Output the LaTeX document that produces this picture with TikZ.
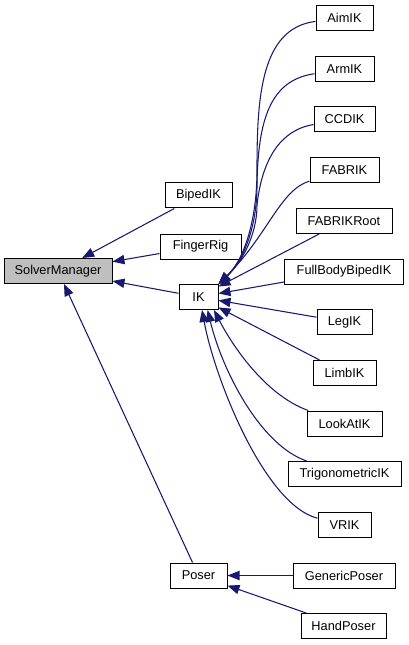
\documentclass[tikz,border=0pt]{standalone}
\usepackage{fontspec}
\setmainfont{Liberation Sans}
\usetikzlibrary{arrows.meta}
\definecolor{doxblue}{RGB}{25,25,112}
\definecolor{doxgray}{RGB}{191,191,191}

\begin{document}
\begin{tikzpicture}[x=0.75pt, y=-0.75pt, >={Triangle[width=7pt,length=9pt]}, cls/.style={draw, fill=white, line width=0.75pt, minimum height=18.75pt, inner sep=0pt, font=\fontsize{9.6}{11}\selectfont}, root/.style={cls, fill=doxgray}, link/.style={color=doxblue, line width=0.8pt}]
\useasboundingbox (0,0) rectangle (409,645);
\draw (58.0, 271.0)node[root, minimum width=81pt](SolverManager){SolverManager};
\draw (198.5, 195.5)node[cls, minimum width=50.25pt](BipedIK){BipedIK};
\draw (200.5, 246.5)node[cls, minimum width=60.75pt](FingerRig){FingerRig};
\draw (198.5, 297.0)node[cls, minimum width=29.25pt](IK){IK};
\draw (198.5, 575.5)node[cls, minimum width=42.75pt](Poser){Poser};
\draw (344.5, 18.0)node[cls, minimum width=42.75pt](AimIK){AimIK};
\draw (344.5, 69.5)node[cls, minimum width=44.25pt](ArmIK){ArmIK};
\draw (344.5, 119.5)node[cls, minimum width=45.75pt](CCDIK){CCDIK};
\draw (344.5, 170.5)node[cls, minimum width=51.75pt](FABRIK){FABRIK};
\draw (344.0, 221.0)node[cls, minimum width=72pt](FABRIKRoot){FABRIKRoot};
\draw (344.0, 271.5)node[cls, minimum width=89.25pt](FullBodyBipedIK){FullBodyBipedIK};
\draw (344.5, 322.0)node[cls, minimum width=41.25pt](LegIK){LegIK};
\draw (344.5, 373.0)node[cls, minimum width=47.25pt](LimbIK){LimbIK};
\draw (344.5, 423.5)node[cls, minimum width=56.25pt](LookAtIK){LookAtIK};
\draw (344.5, 474.0)node[cls, minimum width=84.75pt](TrigonometricIK){TrigonometricIK};
\draw (344.5, 525.0)node[cls, minimum width=39.75pt](VRIK){VRIK};
\draw (344.0, 575.5)node[cls, minimum width=76.5pt](GenericPoser){GenericPoser};
\draw (343.5, 626.0)node[cls, minimum width=63.75pt](HandPoser){HandPoser};
\path[->, link] (BipedIK) edge (SolverManager);
\path[->, link] (FingerRig) edge (SolverManager);
\path[->, link] (IK) edge (SolverManager);
\path[->, link] (Poser) edge (SolverManager);
\draw[->, link] (AimIK) .. controls (260, 28) and (257, 100) .. (257, 170) .. controls (257, 225) and (242, 262) .. (IK.north east);
\draw[->, link] (ArmIK) .. controls (270, 80) and (258, 120) .. (257, 185) .. controls (257, 230) and (242, 262) .. (IK.north east);
\draw[->, link] (CCDIK) .. controls (280, 130) and (262, 160) .. (257, 205) .. controls (257, 235) and (242, 262) .. (IK.north east);
\draw[->, link] (FABRIK) .. controls (280, 190) and (268, 235) .. (IK.north east);
\path[->, link] (FABRIKRoot) edge (IK);
\path[->, link] (FullBodyBipedIK) edge (IK);
\path[->, link] (LegIK) edge (IK);
\path[->, link] (LimbIK) edge (IK);
\draw[->, link] (LookAtIK) .. controls (265, 395) and (232, 345) .. (IK.-40);
\draw[->, link] (TrigonometricIK) .. controls (260, 445) and (222, 370) .. (IK.-55);
\draw[->, link] (VRIK) .. controls (265, 505) and (215, 380) .. (IK.-75);
\path[->, link] (GenericPoser) edge (Poser);
\path[->, link] (HandPoser) edge (Poser);
\end{tikzpicture}
\end{document}
